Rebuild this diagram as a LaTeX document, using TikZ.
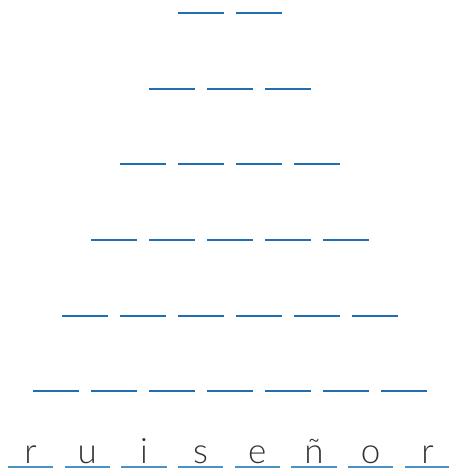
\documentclass[tikz,border=0pt]{standalone}
\usepackage{fontspec}
\setmainfont{Lato}[UprightFont=* Light]
\usetikzlibrary{positioning}
\definecolor{blankblue}{RGB}{31,111,178}
\definecolor{baseblue}{RGB}{74,146,198}
\definecolor{lettergray}{RGB}{50,50,50}

\begin{document}
\begin{tikzpicture}[x=1pt, y=-1pt,
			blank/.style={minimum width=45pt, minimum height=0pt, inner sep=0pt, anchor=south},
			rule/.style={line width=2pt, draw=blankblue},
			baserule/.style={rule, draw=baseblue},
			letter/.style={blank, text depth=3pt, text=lettergray, font=\fontsize{35}{38}\selectfont}
		]
		\useasboundingbox (0,0) rectangle (449,468);
		% rows of empty blanks
		\foreach \r in {1,...,6}{
			\pgfmathtruncatemacro\n{\r+1}
			\pgfmathsetmacro\yy{13+(\r-1)*75.67}
			\foreach \c in {1,...,\n}{
				\pgfmathsetmacro\xx{230+(\c-(\r+2)/2)*58}
				\node[blank] (b-\r-\c) at (\xx,\yy) {};
				\draw[rule] (b-\r-\c.south west) -- (b-\r-\c.south east);
			}
		}
		% the word
		\foreach \ch [count=\c] in {r,u,i,s,e,ñ,o,r}{
			\pgfmathsetmacro\xx{229+(\c-4.5)*56.7}
			\node[letter] (l-\c) at (\xx,466.5) {\ch};
			\draw[baserule] (l-\c.south west) -- (l-\c.south east);
		}
		\end{tikzpicture}
\end{document}
